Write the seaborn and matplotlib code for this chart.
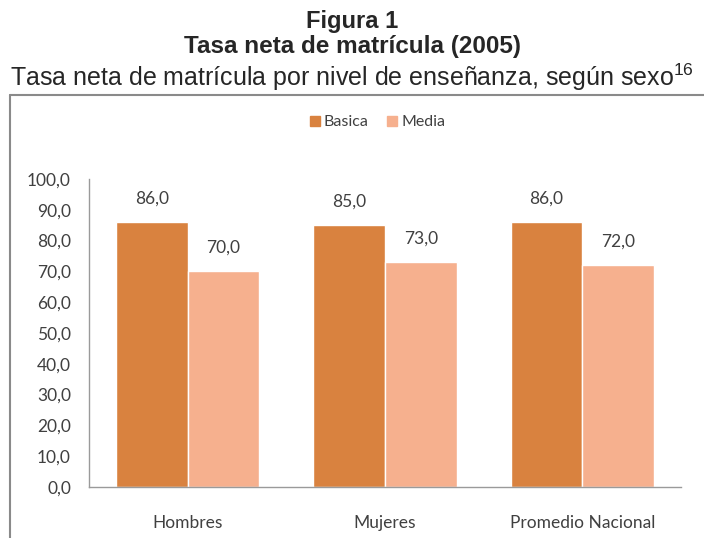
import numpy as np
import pandas as pd
import matplotlib
matplotlib.use('Agg')
import matplotlib.pyplot as plt
import seaborn as sns
from matplotlib.lines import Line2D

# data
categorias = ['Hombres', 'Mujeres', 'Promedio Nacional']
basica = [86.0, 85.0, 86.0]
media = [70.0, 73.0, 72.0]
niveles = ['Basica', 'Media']
colores = ['#D9823F', '#F6B08E']

df = pd.DataFrame({
    'categoria': categorias * 2,
    'nivel': [niveles[0]] * 3 + [niveles[1]] * 3,
    'valor': basica + media,
})

sns.set_style('white')
plt.rcParams['font.family'] = ['Lato', 'DejaVu Sans']
plt.rcParams['mathtext.fontset'] = 'custom'
plt.rcParams['mathtext.rm'] = 'Liberation Sans'

fig = plt.figure(figsize=(7.04, 5.38), dpi=100)
ax = fig.add_axes([89 / 704, 1 - 487 / 538, 592 / 704, 308 / 538])

sns.barplot(data=df, x='categoria', y='valor', hue='nivel', palette=colores,
            width=0.725, gap=0, saturation=1, ax=ax, legend=False)

txt = '#404040'
for cont in ax.containers:
    ax.bar_label(cont, labels=[f'{v:.1f}'.replace('.', ',') for v in cont.datavalues],
                 padding=11, fontsize=12.5, color=txt)

ax.set_ylim(0, 100)
ax.set_yticks(np.arange(0, 101, 10))
ax.set_yticklabels([f'{v:.1f}'.replace('.', ',') for v in np.arange(0, 101, 10)])
ax.tick_params(axis='y', length=0, pad=13, labelsize=12.5, labelcolor=txt)
ax.tick_params(axis='x', length=0, pad=20, labelsize=12.5, labelcolor=txt)
ax.set_xlabel('')
ax.set_ylabel('')
for s in ['top', 'right']:
    ax.spines[s].set_visible(False)
for s in ['left', 'bottom']:
    ax.spines[s].set_color('#9a9a9a')
    ax.spines[s].set_linewidth(1)

# legend
handles = [Line2D([], [], marker='s', linestyle='', markersize=7.5, color=c) for c in colores]
fig.legend(handles, niveles, loc='center', bbox_to_anchor=(376 / 704, 1 - 122 / 538),
           ncol=2, frameon=False, fontsize=11.5, handletextpad=0.05, columnspacing=1.0,
           handlelength=1.0, labelcolor=txt)

# titles
fig.text(0.5, 1 - 28 / 538, 'Figura 1', ha='center', va='baseline', fontsize=17,
         fontweight='bold', family='Liberation Sans')
fig.text(0.5, 1 - 53 / 538, 'Tasa neta de matrícula (2005)', ha='center', va='baseline',
         fontsize=17.5, fontweight='bold', family='Liberation Sans')
fig.text(0.5, 1 - 86 / 538, r'Tasa neta de matrícula por nivel de enseñanza, según sexo$^{16}$',
         ha='center', va='baseline', fontsize=18, family='Liberation Sans')

# box around chart
fig.add_artist(Line2D([10 / 704, 1], [1 - 95 / 538] * 2, color='#8a8a8a', lw=1.5,
                      transform=fig.transFigure))
fig.add_artist(Line2D([10 / 704] * 2, [0, 1 - 95 / 538], color='#8a8a8a', lw=1.5,
                      transform=fig.transFigure))

fig.savefig('out.png', dpi=100)
